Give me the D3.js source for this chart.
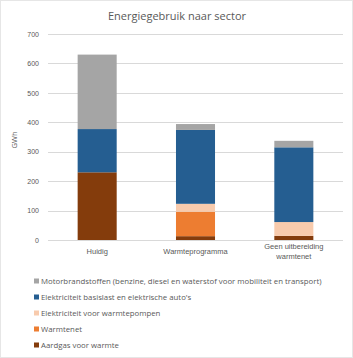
<!DOCTYPE html>
<html>
<head>
<meta charset="utf-8">
<script src="https://cdn.jsdelivr.net/npm/d3@7"></script>
<style>
  body { margin: 0; background: #fff; }
  svg { font-family: "Open Sans", "Liberation Sans", sans-serif; }
  .grid line { stroke: #d9d9d9; stroke-width: 1; }
</style>
</head>
<body>
<div id="chart"></div>
<script>
// scenarios on the x axis
var categories = ["Huidig", "Warmteprogramma", "Geen uitbereiding warmtenet"];

// series, bottom to top in the stack
var seriesNames = [
  "Aardgas voor warmte",
  "Warmtenet",
  "Elektriciteit voor warmtepompen",
  "Elektriciteit basislast en elektrische auto's",
  "Motorbrandstoffen (benzine, diesel en waterstof voor mobiliteit en transport)"
];
var aardgas     = [230, 13, 14];
var warmtenet   = [0, 83, 0];
var warmtepomp  = [0, 27, 47];
var basislast   = [147, 251, 254];
var motor       = [253, 20, 22];

var yTicks = [0, 100, 200, 300, 400, 500, 600, 700];

var colors = ["#843c0c", "#ed7d31", "#f8cbad", "#255e91", "#a5a5a5"];

var data = categories.map(function(c, i) {
  return {
    id: c,
    s0: aardgas[i], s1: warmtenet[i], s2: warmtepomp[i], s3: basislast[i], s4: motor[i]
  };
});
var keys = ["s0", "s1", "s2", "s3", "s4"];

var W = 353, H = 358;
var margin = {top: 34, right: 10, bottom: 118, left: 48},
    width = W - margin.left - margin.right,
    height = H - margin.top - margin.bottom;

var svg = d3.select("#chart").append("svg")
    .attr("width", W)
    .attr("height", H);

svg.append("rect")
    .attr("x", 0.5).attr("y", 0.5)
    .attr("width", W - 1).attr("height", H - 1)
    .attr("fill", "#fff")
    .attr("stroke", "#e6e6e6");

svg.append("text")
    .attr("x", 177)
    .attr("y", 20)
    .attr("text-anchor", "middle")
    .style("font-size", "11px")
    .style("fill", "#595959")
    .text("Energiegebruik naar sector");

var g = svg.append("g")
    .attr("transform", "translate(" + margin.left + "," + margin.top + ")");

var x = d3.scaleBand()
    .range([0, width])
    .domain(categories)
    .paddingInner(0.603)
    .paddingOuter(0.3015);

var y = d3.scaleLinear()
    .range([height, 0])
    .domain([0, 700]);

var color = d3.scaleOrdinal().domain(keys).range(colors);

// gridlines
g.append("g")
    .attr("class", "grid")
  .selectAll("line")
  .data(yTicks)
  .enter().append("line")
    .attr("x1", 0)
    .attr("x2", width)
    .attr("y1", function(d) { return Math.round(y(d)) + 0.5; })
    .attr("y2", function(d) { return Math.round(y(d)) + 0.5; });

var stack = d3.stack().keys(keys);

var layer = g.selectAll(".layer")
  .data(stack(data))
  .enter().append("g")
    .attr("class", "layer")
    .style("fill", function(d) { return color(d.key); });

layer.selectAll("rect")
  .data(function(d) { return d; })
  .enter().append("rect")
    .attr("x", function(d) { return x(d.data.id); })
    .attr("width", x.bandwidth())
    .attr("y", function(d) { return y(d[1]); })
    .attr("height", function(d) { return y(d[0]) - y(d[1]); });

// y axis
var yAxis = g.append("g")
    .call(d3.axisLeft(y).tickValues(yTicks).tickSize(0).tickPadding(9));
yAxis.select(".domain").remove();
yAxis.selectAll(".tick text")
    .attr("fill", "#595959")
    .style("font-size", "7px");

g.append("text")
    .attr("transform", "translate(-31," + (height / 2 + 3) + ") rotate(-90)")
    .attr("text-anchor", "middle")
    .style("font-size", "7.5px")
    .style("fill", "#595959")
    .text("GWh");

// x axis with wrapped labels
var xAxis = g.append("g")
    .attr("transform", "translate(0," + height + ")")
    .call(d3.axisBottom(x).tickSize(0).tickPadding(9));
xAxis.select(".domain").remove();
xAxis.selectAll(".tick text")
    .attr("fill", "#595959")
    .style("font-size", "7.5px")
    .each(function(d) {
      var t = d3.select(this);
      if (d === "Geen uitbereiding warmtenet") {
        t.text(null);
        t.append("tspan").attr("x", 0).attr("dy", 0).text("Geen uitbereiding");
        t.append("tspan").attr("x", 0).attr("dy", "1.3em").text("warmtenet");
      }
    });

// legend, top entry is the top of the stack
var legendData = seriesNames.map(function(n, i) { return {name: n, key: keys[i]}; }).reverse();

var legend = svg.selectAll(".legend")
  .data(legendData)
  .enter().append("g")
    .attr("class", "legend")
    .attr("transform", function(d, i) { return "translate(34," + (281 + i * 16) + ")"; });

legend.append("rect")
    .attr("x", 0)
    .attr("y", -2.5)
    .attr("width", 5)
    .attr("height", 5)
    .style("fill", function(d) { return color(d.key); });

legend.append("text")
    .attr("x", 7)
    .attr("y", 0)
    .attr("dy", ".35em")
    .style("font-size", "7.8px")
    .style("fill", "#595959")
    .text(function(d) { return d.name; });
</script>
</body>
</html>
